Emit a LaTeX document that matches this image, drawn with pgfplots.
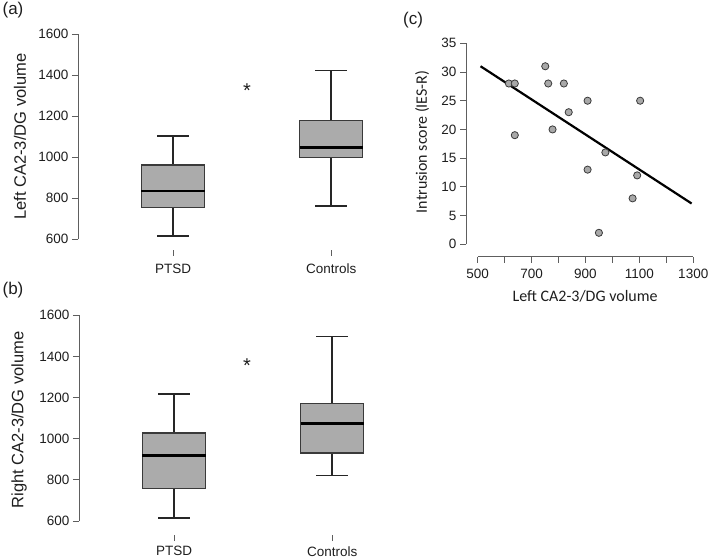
\documentclass[border=0pt]{standalone}
\usepackage{fontspec}
\setmainfont{Liberation Sans}
\newfontfamily\calib{Carlito}
\usepackage{pgfplots}
\pgfplotsset{compat=1.18}

\definecolor{boxfill}{HTML}{ABABAB}
\definecolor{boxedge}{HTML}{3A3A3A}
\definecolor{axcol}{HTML}{5E5E5E}
\definecolor{txt}{HTML}{1E1E1E}
\definecolor{ptfill}{HTML}{A8A8A8}

\tikzset{sigstar/.style={font=\fontsize{20}{22}\selectfont, text=txt, anchor=base}}

\pgfplotsset{
  rstyle/.style={
    scale only axis, clip=false,
    axis line style={draw=none}, tick pos=left,
    tick align=outside, major tick length=6pt,
    major tick style={draw=axcol, line width=1pt},
    ticklabel style={font=\fontsize{13.5}{16}\selectfont, text=txt},
    /pgf/number format/assume math mode=true,
    /pgf/number format/set thousands separator={},
    label style={font=\fontsize{16.5}{19}\selectfont, text=txt},
  },
  boxstyle/.style={
    rstyle,
    xmin=0.399, xmax=2.6, xtick={1,2}, xticklabels={PTSD,Controls},
    ytick={600,800,...,1600}, width=348pt,
  },
  boxdraw/.style={draw=boxedge, fill=boxfill, line width=1.4pt},
  whisk/.style={black!85, line width=1.4pt},
  med/.style={black, line width=2.8pt},
}

\begin{document}
\begin{tikzpicture}
\useasboundingbox (0,0) rectangle (709pt,558pt);

% (a) left volume
\begin{axis}[boxstyle, at={(78pt,308.5pt)}, anchor=south west,
  height=225.5pt, ymin=550, ymax=1650,
  xticklabel style={yshift=-5pt},
  ylabel={Left CA2-3/DG volume},
  ylabel style={at={(axis description cs:-0.167,0.5)}, anchor=center}]
  % PTSD: whiskers 615/1103, box 755-962, median 835
  \addplot[whisk] coordinates {(1,615) (1,755)};
  \addplot[whisk] coordinates {(1,962) (1,1103)};
  \addplot[whisk] coordinates {(0.9,615) (1.1,615)};
  \addplot[whisk] coordinates {(0.9,1103) (1.1,1103)};
  \addplot[boxdraw] coordinates {(0.8,755) (1.2,755) (1.2,962) (0.8,962)} -- cycle;
  \addplot[med] coordinates {(0.8,835) (1.2,835)};
  % Controls: whiskers 762/1422, box 1000-1180, median 1048
  \addplot[whisk] coordinates {(2,762) (2,1000)};
  \addplot[whisk] coordinates {(2,1180) (2,1422)};
  \addplot[whisk] coordinates {(1.9,762) (2.1,762)};
  \addplot[whisk] coordinates {(1.9,1422) (2.1,1422)};
  \addplot[boxdraw] coordinates {(1.8,1000) (2.2,1000) (2.2,1180) (1.8,1180)} -- cycle;
  \addplot[med] coordinates {(1.8,1048) (2.2,1048)};
  \draw[axcol, line width=0.9pt] (axis cs:0.399,600) -- (axis cs:0.399,1600);
  \node[sigstar] at (axis cs:1.468,1290) {*};
\end{axis}

% (b) right volume
\begin{axis}[boxstyle, at={(79pt,23pt)}, anchor=south west,
  height=230pt, ymin=532, ymax=1650,
  xticklabel style={yshift=-2pt},
  ylabel={Right CA2-3/DG volume},
  ylabel style={at={(axis description cs:-0.172,0.5)}, anchor=center}]
  % PTSD: whiskers 615/1217, box 757-1027, median 918
  \addplot[whisk] coordinates {(1,615) (1,757)};
  \addplot[whisk] coordinates {(1,1027) (1,1217)};
  \addplot[whisk] coordinates {(0.9,615) (1.1,615)};
  \addplot[whisk] coordinates {(0.9,1217) (1.1,1217)};
  \addplot[boxdraw] coordinates {(0.8,757) (1.2,757) (1.2,1027) (0.8,1027)} -- cycle;
  \addplot[med] coordinates {(0.8,918) (1.2,918)};
  % Controls: whiskers 820/1497, box 930-1170, median 1073
  \addplot[whisk] coordinates {(2,820) (2,930)};
  \addplot[whisk] coordinates {(2,1170) (2,1497)};
  \addplot[whisk] coordinates {(1.9,820) (2.1,820)};
  \addplot[whisk] coordinates {(1.9,1497) (2.1,1497)};
  \addplot[boxdraw] coordinates {(1.8,930) (2.2,930) (2.2,1170) (1.8,1170)} -- cycle;
  \addplot[med] coordinates {(1.8,1073) (2.2,1073)};
  \draw[axcol, line width=0.9pt] (axis cs:0.399,600) -- (axis cs:0.399,1600);
  \node[sigstar] at (axis cs:1.462,1323) {*};
\end{axis}

% (c) scatter
\begin{axis}[rstyle, at={(466pt,301.3pt)}, anchor=south west,
  width=234pt, height=220.7pt,
  xmin=457, xmax=1325, ymin=-2.16, ymax=36.27,
  xtick={500,600,...,1300}, xticklabels={500,,700,,900,,1100,,1300},
  ytick={0,5,...,35},
  xticklabel style={yshift=-3pt},
  label style={font=\calib\fontsize{16}{19}\selectfont, text=txt},
  xlabel={Left CA2-3/DG volume},
  xlabel style={at={(axis description cs:0.509,-0.178)}, anchor=center},
  ylabel={Intrusion score (IES-R)},
  ylabel style={at={(axis description cs:-0.188,0.52)}, anchor=center}]
  \addplot[only marks, mark=*, mark size=3.6pt,
    mark options={fill=ptfill, draw=boxedge, line width=0.8pt}] coordinates {
    (616,28) (638,28) (638,19) (751,31) (762,28) (820,28) (778,20) (838,23)
    (908,25) (908,13) (974,16) (950,2) (1075,8) (1092,12) (1103,25)
  };
  \addplot[black, line width=2.2pt] coordinates {(511,31.0) (1294,7.1)};
  \draw[axcol, line width=0.9pt] (axis cs:500,-2.16) -- (axis cs:1300,-2.16);
  \draw[axcol, line width=0.9pt] (axis cs:457,0) -- (axis cs:457,35);
\end{axis}

\node[font=\fontsize{17}{20}\selectfont, text=txt] at (13pt,548pt) {(a)};
\node[font=\fontsize{17}{20}\selectfont, text=txt] at (13pt,268pt) {(b)};
\node[font=\fontsize{17}{20}\selectfont, text=txt] at (413pt,538pt) {(c)};
\end{tikzpicture}
\end{document}
